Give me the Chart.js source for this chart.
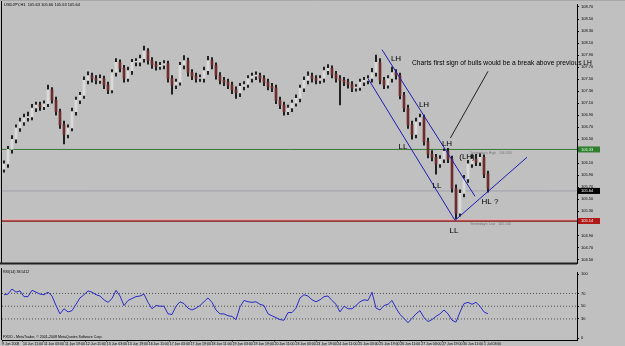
<!DOCTYPE html>
<html><head><meta charset="utf-8">
<script src="https://cdn.jsdelivr.net/npm/chart.js@4.4.0/dist/chart.umd.min.js"></script>
<style>
html,body{margin:0;padding:0;background:#c0c0c0;width:625px;height:346px;overflow:hidden}
#c1{position:absolute;left:0;top:0}
#c2{position:absolute;left:0;top:268px}
</style></head><body>
<canvas id="c1" width="625" height="268"></canvas>
<canvas id="c2" width="625" height="78"></canvas>
<script>
// ---- USDJPY H1 candles ----
const opens = [
106.00,106.09,106.33,106.50,106.69,106.79,106.86,106.87,107.02,107.07,
107.04,107.09,107.32,107.15,106.96,106.74,106.58,106.69,106.96,107.15,
107.23,107.48,107.56,107.51,107.48,107.51,107.40,107.32,107.61,107.78,
107.68,107.51,107.64,107.78,107.78,107.84,107.97,107.81,107.74,107.71,
107.73,107.76,107.51,107.40,107.45,107.73,107.81,107.61,107.55,107.51,
107.51,107.64,107.81,107.73,107.56,107.48,107.45,107.40,107.32,107.27,
107.38,107.41,107.51,107.55,107.56,107.51,107.45,107.38,107.35,107.15,
107.07,106.96,107.02,107.10,107.18,107.35,107.48,107.55,107.51,107.48,
107.51,107.64,107.68,107.58,107.51,107.48,107.45,107.41,107.35,107.36,
107.45,107.48,107.51,107.61,107.78,107.48,107.40,107.51,107.61,107.56,
107.23,107.02,106.74,106.58,106.79,106.86,106.46,106.25,106.20,106.09,
106.17,106.30,106.17,105.68,105.27,105.60,105.84,106.09,106.17,106.12,
106.20,105.92];
const highs = [
106.14,106.38,106.56,106.74,106.85,106.92,106.95,107.08,107.12,107.12,
107.14,107.40,107.36,107.20,107.00,106.80,106.74,107.02,107.20,107.28,
107.54,107.62,107.60,107.56,107.57,107.55,107.45,107.66,107.84,107.82,
107.73,107.70,107.83,107.84,107.90,108.05,108.01,107.86,107.79,107.78,
107.81,107.80,107.56,107.50,107.78,107.89,107.85,107.66,107.60,107.57,
107.70,107.88,107.86,107.77,107.61,107.53,107.50,107.45,107.37,107.43,
107.46,107.56,107.60,107.62,107.60,107.56,107.50,107.43,107.40,107.20,
107.12,107.07,107.15,107.24,107.40,107.54,107.62,107.60,107.56,107.56,
107.70,107.74,107.72,107.63,107.56,107.53,107.50,107.46,107.41,107.50,
107.53,107.56,107.68,107.90,107.84,107.53,107.56,107.70,107.66,107.60,
107.28,107.07,106.80,106.85,106.92,106.90,106.52,106.31,106.25,106.23,
106.34,106.35,106.22,105.74,105.66,105.90,106.15,106.24,106.25,106.26,
106.24,105.97];
const lows = [
105.95,106.03,106.27,106.44,106.63,106.73,106.80,106.82,106.96,106.98,
106.99,107.04,107.10,106.90,106.68,106.42,106.52,106.64,106.90,107.09,
107.18,107.42,107.45,107.42,107.43,107.34,107.26,107.27,107.55,107.62,
107.45,107.46,107.58,107.72,107.72,107.78,107.75,107.68,107.65,107.66,
107.67,107.45,107.25,107.34,107.40,107.67,107.55,107.49,107.45,107.46,
107.45,107.58,107.67,107.50,107.42,107.39,107.34,107.26,107.18,107.21,
107.32,107.36,107.45,107.49,107.45,107.39,107.32,107.29,107.09,107.01,
106.90,106.91,106.96,107.05,107.12,107.29,107.42,107.45,107.42,107.43,
107.45,107.58,107.52,107.45,107.07,107.39,107.35,107.29,107.30,107.31,
107.39,107.42,107.45,107.55,107.42,107.34,107.35,107.45,107.50,107.17,
106.96,106.68,106.50,106.52,106.73,106.40,106.19,106.14,105.92,106.03,
106.11,106.11,105.62,105.18,105.22,105.54,105.78,106.03,106.06,106.06,
105.86,105.62];
const closes = [
106.09,106.33,106.50,106.69,106.79,106.86,106.87,107.02,107.07,107.04,
107.09,107.32,107.15,106.96,106.74,106.58,106.69,106.96,107.15,107.23,
107.48,107.56,107.51,107.48,107.51,107.40,107.32,107.61,107.78,107.68,
107.51,107.64,107.78,107.78,107.84,107.97,107.81,107.74,107.71,107.73,
107.76,107.51,107.40,107.45,107.73,107.81,107.61,107.55,107.51,107.51,
107.64,107.81,107.73,107.56,107.48,107.45,107.40,107.32,107.27,107.38,
107.41,107.51,107.55,107.56,107.51,107.45,107.38,107.35,107.15,107.07,
106.96,107.02,107.10,107.18,107.35,107.48,107.55,107.51,107.48,107.51,
107.64,107.68,107.58,107.51,107.48,107.45,107.41,107.35,107.36,107.45,
107.48,107.51,107.61,107.78,107.48,107.40,107.51,107.61,107.56,107.23,
107.02,106.74,106.58,106.79,106.86,106.46,106.25,106.20,106.09,106.17,
106.30,106.17,105.68,105.27,105.60,105.84,106.09,106.17,106.12,106.20,
105.92,105.68];
// ---- RSI(14) ----
const rsi = [
68,69,77,72,74,65,65,75,72,69,
68,72,66,51,38,46,41,43,53,63,
68,74,72,68,66,60,56,62,75,66,
51,59,62,65,66,69,56,46,51,50,
50,38,37,50,57,54,47,44,47,51,
57,63,56,44,38,38,35,34,29,49,
59,57,56,57,53,51,38,35,32,29,
28,40,40,47,63,68,66,60,57,60,
65,66,59,53,41,50,46,46,51,57,
60,59,72,47,44,51,53,59,47,37,
31,24,31,38,43,32,26,29,34,38,
44,38,28,25,41,54,56,53,56,50,
41,38];
const rsiLevels = [70, 50, 30];
const rsiTicks = [100, 70, 50, 30, 0];
// ---- axis labels ----
const priceTicks = [108.70,108.50,108.30,108.10,107.90,107.70,107.50,107.30,107.10,106.90,106.70,
                    106.50,106.30,106.10,105.90,105.70,105.50,105.30,105.10,104.90,104.70,104.50];
const dateLabels = ["9 Jun 2008","10 Jun 11:00","11 Jun 03:00","11 Jun 19:00","12 Jun 11:00","13 Jun 03:00",
  "13 Jun 19:00","16 Jun 11:00","17 Jun 03:00","17 Jun 19:00","18 Jun 11:00","19 Jun 03:00","19 Jun 19:00",
  "20 Jun 11:00","23 Jun 03:00","23 Jun 19:00","24 Jun 11:00","25 Jun 03:00","25 Jun 19:00","26 Jun 11:00",
  "27 Jun 03:00","27 Jun 19:00","30 Jun 11:00","1 Jul 03:00"];
// ---- levels & drawings ----
const yesterdayHigh = 106.33, yesterdayLow = 105.14, bidPrice = 105.64;
const channelUpper = [{x:94.5,y:107.99},{x:117.75,y:105.55}];
const channelLower = [{x:91,y:107.51},{x:112.75,y:105.15}];
const supportLine = [{x:112.75,y:105.15},{x:130.75,y:106.20}];
const calloutLine = [{x:121,y:107.63},{x:111.6,y:106.52}];
const notes = [
  {text:"LH", x:98, y:107.84}, {text:"LH", x:105, y:107.07}, {text:"LL", x:99.75, y:106.38},
  {text:"LH", x:110.75, y:106.43}, {text:"(LH)", x:115.75, y:106.20}, {text:"LL", x:108.25, y:105.73},
  {text:"HL ?", x:121.5, y:105.46}, {text:"LL", x:112.5, y:104.97}];
const calloutText = {text:"Charts first sign of bulls would be a break above previous LH", x:102, y:107.76};
const title = "USDJPY,H1  105.63 105.66 105.63 105.64";

const XMIN = -0.5, XMAX = 143.25;
const FONT = '"Liberation Sans", Arial, sans-serif';
const idx = closes.map((_, i) => i);
const hline = (v, color, w) => ({type:'line', data:[{x:XMIN,y:v},{x:XMAX,y:v}], borderColor:color,
  borderWidth:w, pointRadius:0, fill:false});
const seg = (pts, color) => ({type:'line', data:pts, borderColor:color, borderWidth:1, pointRadius:0, fill:false});

const overlay1 = {
  id:'overlay1',
  afterDraw(chart){
    const {ctx, chartArea:a, scales:{x, y}} = chart;
    ctx.save();
    ctx.strokeStyle = '#000'; ctx.lineWidth = 1;
    ctx.beginPath(); ctx.moveTo(a.left - 0.5, 0); ctx.lineTo(a.left - 0.5, a.bottom); ctx.stroke();
    ctx.strokeStyle = '#a8a8a8';
    ctx.beginPath(); ctx.moveTo(0, 0.5); ctx.lineTo(625, 0.5); ctx.stroke();
    ctx.strokeStyle = '#202020'; ctx.lineWidth = 2;
    ctx.beginPath(); ctx.moveTo(0, a.bottom); ctx.lineTo(a.right, a.bottom); ctx.stroke();
    ctx.fillStyle = '#000'; ctx.textAlign = 'center'; ctx.textBaseline = 'middle';
    ctx.font = '8px ' + FONT;
    notes.forEach(n => ctx.fillText(n.text, x.getPixelForValue(n.x), y.getPixelForValue(n.y)));
    ctx.textAlign = 'left'; ctx.font = '6.7px ' + FONT;
    ctx.fillText(calloutText.text, x.getPixelForValue(calloutText.x), y.getPixelForValue(calloutText.y));
    ctx.font = '4px ' + FONT; ctx.textBaseline = 'top';
    ctx.fillText(title, 4, 3);
    ctx.fillStyle = '#777'; ctx.font = '3.5px ' + FONT;
    ctx.fillText("Yesterday's High   " + yesterdayHigh.toFixed(3), x.getPixelForValue(116.5), y.getPixelForValue(yesterdayHigh) + 1.5);
    ctx.fillText("Yesterday's Low   " + yesterdayLow.toFixed(3), x.getPixelForValue(116.5), y.getPixelForValue(yesterdayLow) + 1.5);
    const tags = [{v:yesterdayHigh, bg:'#2f7f2f', fg:'#e0ffe0'}, {v:bidPrice, bg:'#000', fg:'#fff'}, {v:yesterdayLow, bg:'#b01818', fg:'#fff'}];
    ctx.font = '4px ' + FONT; ctx.textBaseline = 'middle';
    tags.forEach(t => {
      const py = y.getPixelForValue(t.v);
      ctx.fillStyle = t.bg; ctx.fillRect(a.right + 1, py - 3, 22, 6);
      ctx.fillStyle = t.fg; ctx.fillText(t.v.toFixed(2), a.right + 4, py);
    });
    ctx.restore();
  }
};

new Chart(document.getElementById('c1'), {
  type:'bar',
  data:{datasets:[
    seg(channelUpper, '#1c1cb4'), seg(channelLower, '#1c1cb4'), seg(supportLine, '#1c1cb4'), seg(calloutLine, '#202020'),
    {label:'body', data: idx.map(i => ({x:i, y:[opens[i], closes[i]]})),
      backgroundColor: idx.map(i => closes[i] >= opens[i] ? '#dadada' : '#6e2c2c'),
      barThickness:2, grouped:false, minBarLength:1, borderWidth:0},
    {label:'wick', data: idx.map(i => ({x:i, y:[lows[i], highs[i]]})), backgroundColor:'#000',
      barThickness:1, grouped:false, borderWidth:0},
    hline(yesterdayHigh, '#357a35', 1), hline(yesterdayLow + 0.02, '#f0a8a8', 1), hline(yesterdayLow, '#8a1212', 1.5),
    hline(bidPrice, '#a0a0aa', 1)
  ]},
  options:{
    responsive:false, animation:false, devicePixelRatio:1,
    layout:{padding:{top:3, bottom:2, left:2, right:0}},
    plugins:{legend:{display:false}, tooltip:{enabled:false}},
    scales:{
      x:{type:'linear', min:XMIN, max:XMAX, offset:false, display:false},
      y:{type:'linear', position:'right', min:104.431, max:108.743, beginAtZero:false,
        afterFit: s => { s.width = 48; },
        afterBuildTicks: s => { s.ticks = priceTicks.map(v => ({value:v})); },
        ticks:{font:{size:4, family:FONT}, color:'#000', padding:2, callback:(v, i) => priceTicks[i].toFixed(2)},
        grid:{drawOnChartArea:false, drawTicks:true, tickLength:2, color:'#000'},
        border:{display:true, color:'#000'}}
    }
  },
  plugins:[overlay1]
});

const overlay2 = {
  id:'overlay2',
  afterDraw(chart){
    const {ctx, chartArea:a} = chart;
    ctx.save();
    ctx.strokeStyle = '#000'; ctx.lineWidth = 1;
    ctx.beginPath(); ctx.moveTo(a.left - 0.5, 0); ctx.lineTo(a.left - 0.5, a.bottom); ctx.stroke();
    ctx.fillStyle = '#000'; ctx.font = '3.6px ' + FONT; ctx.textBaseline = 'top'; ctx.textAlign = 'left';
    ctx.fillText("RSI(14) " + "38.5412", 3, 2.5);
    ctx.fillText("FXDD - MetaTrader, \u00a9 2001-2008 MetaQuotes Software Corp.", 3, 67.5);
    ctx.restore();
  }
};

new Chart(document.getElementById('c2'), {
  type:'line',
  data:{datasets:[
    {data: idx.map(i => ({x:i, y:rsi[i]})), borderColor:'#2a2ac8', borderWidth:1, pointRadius:0, fill:false, tension:0},
    ...rsiLevels.map(v => ({data:[{x:XMIN,y:v},{x:XMAX,y:v}], borderColor:'#505050', borderWidth:1, borderDash:[1,2], pointRadius:0, fill:false}))
  ]},
  options:{
    responsive:false, animation:false, devicePixelRatio:1,
    layout:{padding:{top:0, bottom:0, left:2, right:0}},
    plugins:{legend:{display:false}, tooltip:{enabled:false}},
    scales:{
      x:{type:'linear', min:XMIN, max:XMAX, offset:false, position:'bottom',
        afterFit: s => { s.height = 6; },
        afterBuildTicks: s => { s.ticks = dateLabels.map((_, j) => ({value: XMIN + j * 5.24})); },
        ticks:{font:{size:3.5, family:FONT}, color:'#000', padding:0, align:'start', maxRotation:0, autoSkip:false,
          callback:(v, i) => dateLabels[i]},
        grid:{drawOnChartArea:false, drawTicks:true, tickLength:1.5, color:'#000'},
        border:{display:true, color:'#000'}},
      y:{type:'linear', position:'right', min:-3, max:103,
        afterFit: s => { s.width = 48; },
        afterBuildTicks: s => { s.ticks = rsiTicks.map(v => ({value:v})); },
        ticks:{font:{size:4, family:FONT}, color:'#000', padding:2, callback:(v, i) => String(rsiTicks[i])},
        grid:{drawOnChartArea:false, drawTicks:true, tickLength:2, color:'#000'},
        border:{display:true, color:'#000'}}
    }
  },
  plugins:[overlay2]
});
</script>
</body></html>
